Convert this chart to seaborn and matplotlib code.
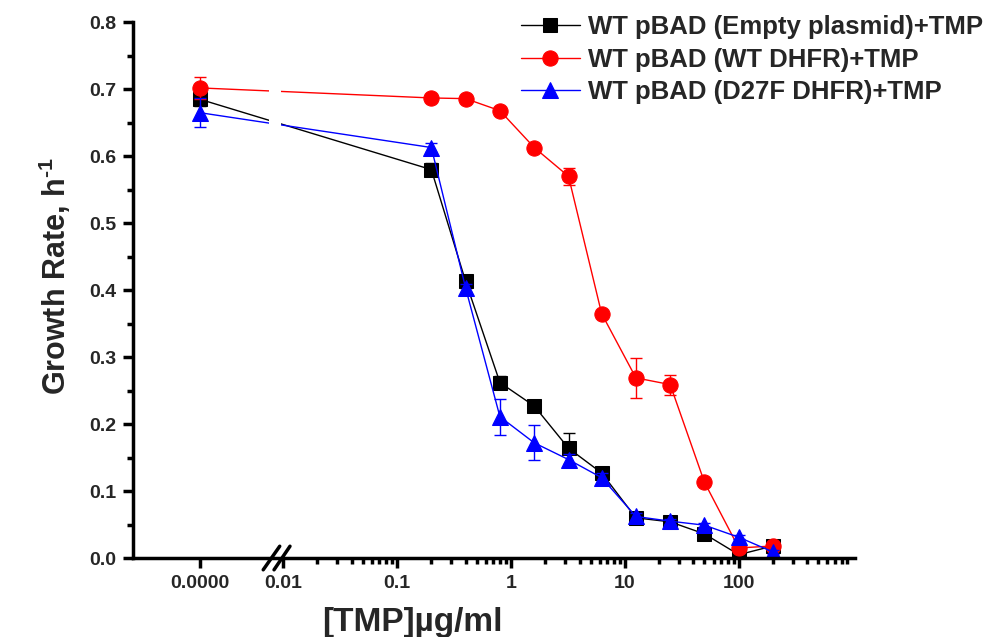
import numpy as np
import pandas as pd
import matplotlib
matplotlib.use("Agg")
import matplotlib.pyplot as plt
import matplotlib.transforms as mtransforms
import seaborn as sns

# TMP concentrations (ug/ml); 0 is drawn left of the axis break
tmp_conc = [0, 0.2, 0.4, 0.8, 1.6, 3.2, 6.25, 12.5, 25, 50, 100, 200]

empty_rate = [0.685, 0.580, 0.413, 0.262, 0.227, 0.164, 0.127, 0.060, 0.054, 0.036, 0.005, 0.018]
empty_err = [0.010, 0.010, 0.010, 0.010, 0.005, 0.023, 0.006, 0.004, 0.004, 0.003, 0.003, 0.003]

wt_rate = [0.702, 0.687, 0.686, 0.668, 0.613, 0.570, 0.365, 0.269, 0.259, 0.113, 0.015, 0.018]
wt_err = [0.016, 0.003, 0.003, 0.004, 0.006, 0.013, 0.004, 0.030, 0.015, 0.004, 0.006, 0.004]

d27f_rate = [0.665, 0.613, 0.403, 0.211, 0.172, 0.147, 0.120, 0.062, 0.055, 0.049, 0.031, 0.009]
d27f_err = [0.022, 0.007, 0.006, 0.027, 0.026, 0.009, 0.007, 0.005, 0.004, 0.003, 0.003, 0.003]

series_names = ["WT pBAD (Empty plasmid)+TMP", "WT pBAD (WT DHFR)+TMP", "WT pBAD (D27F DHFR)+TMP"]
series_colors = ["#000000", "#ff0000", "#0000ff"]
series_markers = ["s", "o", "^"]

tick_vals = [0, 0.01, 0.1, 1, 10, 100]
tick_labels = ["0.0000", "0.01", "0.1", "1", "10", "100"]

ZERO_POS = -2.73  # where x=0 sits on the log10 scale


def forward(x):
    x = np.asarray(x, dtype=float)
    return np.where(x > 0, np.log10(np.maximum(x, 1e-300)), x + ZERO_POS)


def inverse(u):
    u = np.asarray(u, dtype=float)
    return np.where(u < -2.4, u - ZERO_POS, 10 ** np.minimum(u, 300))


sns.set_theme(style="ticks")
plt.rcParams["font.family"] = ["Liberation Sans", "DejaVu Sans"]
plt.rcParams["font.weight"] = "bold"
plt.rcParams["mathtext.fontset"] = "custom"
plt.rcParams["mathtext.rm"] = "Liberation Sans:bold"
plt.rcParams["mathtext.bf"] = "Liberation Sans:bold"
plt.rcParams["mathtext.default"] = "bf"

df = pd.DataFrame({
    "conc": tmp_conc * 3,
    "rate": empty_rate + wt_rate + d27f_rate,
    "err": empty_err + wt_err + d27f_err,
    "strain": [n for n in series_names for _ in tmp_conc],
})

fig = plt.figure(figsize=(9.87, 6.37), dpi=100)
ax = fig.add_axes([0.135, 0.124, 0.731, 0.841])
ax.set_xscale("function", functions=(forward, inverse))

msizes = {"s": 10, "o": 11, "^": 11}
for name, col, mk in zip(series_names, series_colors, series_markers):
    sub = df[df["strain"] == name]
    ax.errorbar(sub["conc"], sub["rate"], yerr=sub["err"], fmt="none",
                ecolor=col, elinewidth=1, capsize=4, capthick=1, zorder=2)
    sns.lineplot(data=sub, x="conc", y="rate", ax=ax, color=col, marker=mk,
                 markersize=msizes[mk], markeredgecolor=col, linewidth=1,
                 label=name, estimator=None, sort=False, zorder=2)

# white gap for the axis break
ax.axvspan(10 ** -2.12, 10 ** -2.015, ymin=0.006, ymax=1, color="white", zorder=2.3, lw=0)
brk = mtransforms.blended_transform_factory(ax.transData, ax.transAxes)
for a, b in [(-2.175, -2.03), (-2.08, -1.94)]:
    ax.plot([10 ** a, 10 ** b], [-0.022, 0.022], color="black", lw=2.5,
            transform=brk, clip_on=False, zorder=5)

ax.set_xlim(-0.586, 10 ** 3.018)
ax.set_ylim(0, 0.8)

ax.set_xticks(tick_vals, tick_labels)
minor_x = [m * 10.0 ** e for e in range(-2, 3) for m in range(2, 10)]
ax.set_xticks(minor_x, minor=True)
ax.set_yticks(np.arange(0, 0.81, 0.1), [f"{v:.1f}" for v in np.arange(0, 0.81, 0.1)])
ax.set_yticks(np.arange(0.05, 0.8, 0.1), minor=True)

ax.tick_params(axis="both", which="major", direction="out", length=7, width=2.5,
               labelsize=14, color="black", pad=5)
ax.tick_params(axis="both", which="minor", direction="out", length=4, width=2.5, color="black")
for lab in ax.get_xticklabels() + ax.get_yticklabels():
    lab.set_fontweight("bold")

sns.despine(ax=ax)
for s in ["left", "bottom"]:
    ax.spines[s].set_linewidth(2.5)
    ax.spines[s].set_color("black")

ax.set_xlabel("[TMP]µg/ml", fontsize=24, fontweight="bold", x=0.387, labelpad=11)
ax.set_ylabel(r"Growth Rate, h$^{\text{-1}}$", fontsize=22, fontweight="bold",
              y=0.527, labelpad=12)

leg = ax.legend(loc="upper right", bbox_to_anchor=(1.014, 1.005), bbox_transform=fig.transFigure,
                frameon=False, prop={"size": 18.5, "weight": "bold"}, handlelength=2.3,
                handletextpad=0.3, labelspacing=0.34, borderaxespad=0.3)

fig.savefig("out.png", dpi=100)
